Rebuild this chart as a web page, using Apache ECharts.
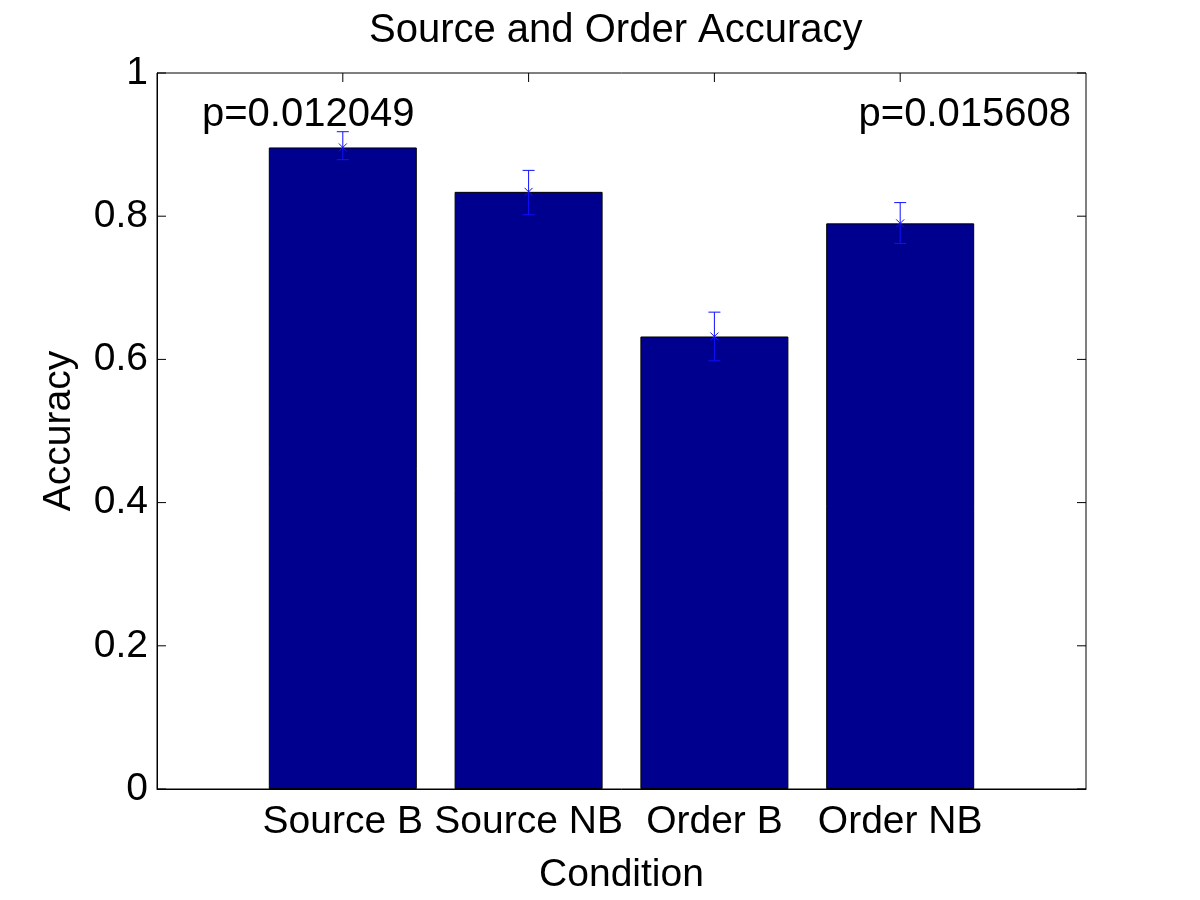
<!DOCTYPE html>
<html><head><meta charset="utf-8">
<script src="https://cdn.jsdelivr.net/npm/echarts@6/dist/echarts.min.js"></script>
<style>html,body{margin:0;padding:0;background:#fff}#c{width:1200px;height:900px}</style>
</head><body><div id="c"></div>
<script>
const categories = ['Source B', 'Source NB', 'Order B', 'Order NB'];
const positions = [1, 2, 3, 4];
const accuracy = [0.896, 0.834, 0.632, 0.790];
const errLow = [0.879, 0.802, 0.598, 0.762];
const errHigh = [0.918, 0.864, 0.666, 0.819];
const yTicks = [0, 0.2, 0.4, 0.6, 0.8, 1];
const pTexts = ['p=0.012049', 'p=0.015608'];

const FONT = 'Liberation Sans';
const X_MIN = 0, X_MAX = 5, Y_MIN = 0, Y_MAX = 1;
const chart = echarts.init(document.getElementById('c'), null, {renderer: 'canvas'});

const barData = positions.map((p, i) => [p, accuracy[i]]);
const errData = positions.map((p, i) => [p, errLow[i], errHigh[i], accuracy[i]]);
// tick-mark data: [kind, value] ; kind 0 = y tick, 1 = x tick
const tickData = yTicks.map(v => [0, v]).concat(positions.map(p => [1, p]));

const option = {
  backgroundColor: '#fff',
  animation: false,
  title: {
    text: 'Source and Order Accuracy', left: 364, top: 6,
    textStyle: {fontFamily: FONT, fontSize: 40, fontWeight: 'normal', color: '#000'}
  },
  grid: {left: 157, right: 114, top: 73, bottom: 109, show: true, borderColor: '#000', borderWidth: 1, backgroundColor: '#fff'},
  xAxis: [{
    type: 'value', min: X_MIN, max: X_MAX, interval: 1, position: 'bottom',
    name: 'Condition', nameLocation: 'middle', nameGap: 67,
    nameTextStyle: {fontFamily: FONT, fontSize: 39, color: '#000'},
    axisLine: {show: true, lineStyle: {color: '#000'}},
    axisTick: {show: false},
    axisLabel: {fontFamily: FONT, fontSize: 39, color: '#000', margin: 14,
      formatter: v => { const i = positions.indexOf(v); return i >= 0 ? categories[i] : ''; }},
    splitLine: {show: false}
  }],
  yAxis: [{
    type: 'value', min: Y_MIN, max: Y_MAX, interval: 0.2, position: 'left',
    name: 'Accuracy', nameLocation: 'middle', nameGap: 78, nameRotate: 90,
    nameTextStyle: {fontFamily: FONT, fontSize: 39, color: '#000'},
    axisLine: {show: true, lineStyle: {color: '#000'}},
    axisTick: {show: false},
    axisLabel: {fontFamily: FONT, fontSize: 39, color: '#000', margin: 9,
      formatter: v => { const t = yTicks.find(x => Math.abs(x - v) < 1e-9); return t === undefined ? '' : String(+t.toFixed(1)); }},
    splitLine: {show: false}
  }],
  series: [{
    type: 'bar', data: barData, barWidth: 148, z: 2,
    itemStyle: {color: '#00008f', borderColor: '#000', borderWidth: 1}
  }, {
    type: 'custom', data: errData, z: 10,
    renderItem: (params, api) => {
      const x = api.value(0);
      const lo = api.coord([x, api.value(1)]);
      const hi = api.coord([x, api.value(2)]);
      const m = api.coord([x, api.value(3)]);
      const cw = 6, mk = 4;
      const st = {stroke: '#1010ff', lineWidth: 1};
      return {type: 'group', children: [
        {type: 'line', shape: {x1: lo[0], y1: lo[1], x2: hi[0], y2: hi[1]}, style: st},
        {type: 'line', shape: {x1: lo[0] - cw, y1: lo[1], x2: lo[0] + cw, y2: lo[1]}, style: st},
        {type: 'line', shape: {x1: hi[0] - cw, y1: hi[1], x2: hi[0] + cw, y2: hi[1]}, style: st},
        {type: 'line', shape: {x1: m[0] - mk, y1: m[1] - mk, x2: m[0] + mk, y2: m[1] + mk}, style: st},
        {type: 'line', shape: {x1: m[0] - mk, y1: m[1] + mk, x2: m[0] + mk, y2: m[1] - mk}, style: st}
      ]};
    }
  }, {
    // inward tick marks on all four sides (MATLAB box style)
    type: 'custom', data: tickData, z: 1, silent: true,
    renderItem: (params, api) => {
      const kind = api.value(0), v = api.value(1), L = 9;
      const st = {stroke: '#000', lineWidth: 1};
      if (kind === 0) {
        const a = api.coord([X_MIN, v]), b = api.coord([X_MAX, v]);
        return {type: 'group', children: [
          {type: 'line', shape: {x1: a[0], y1: a[1], x2: a[0] + L, y2: a[1]}, style: st},
          {type: 'line', shape: {x1: b[0] - L, y1: b[1], x2: b[0], y2: b[1]}, style: st}
        ]};
      }
      const a = api.coord([v, Y_MIN]), b = api.coord([v, Y_MAX]);
      return {type: 'group', children: [
        {type: 'line', shape: {x1: a[0], y1: a[1], x2: a[0], y2: a[1] - L}, style: st},
        {type: 'line', shape: {x1: b[0], y1: b[1], x2: b[0], y2: b[1] + L}, style: st}
      ]};
    }
  }],
  graphic: [
    {type: 'text', left: 202, top: 95, z: 20, style: {text: pTexts[0], font: '40px "Liberation Sans"', fill: '#000'}},
    {type: 'text', right: 129, top: 95, z: 20, style: {text: pTexts[1], font: '40px "Liberation Sans"', fill: '#000'}}
  ]
};
chart.setOption(option);
</script>
</body></html>
